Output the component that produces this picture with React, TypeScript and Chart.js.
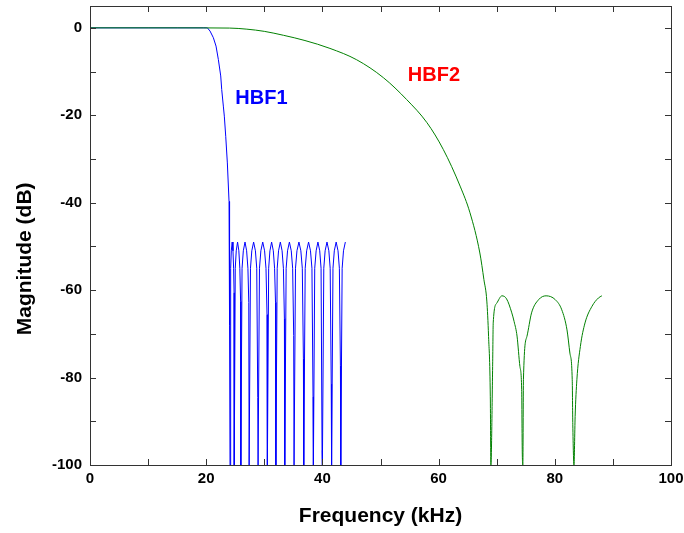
import React, { useEffect, useRef } from 'react';
import { Chart, registerables } from 'chart.js';

Chart.register(...registerables);

// ---- data ----
// HBF1 (blue): passband, steep transition, equiripple stopband with nulls
const hbf1Freq = [
  0, 10, 20, 20.2, 20.66, 21.23, 21.69, 22.09, 22.5, 22.67, 22.95, 23.12, 23.36, 23.64, 23.93, 23.98, 24.06, 24.1,
  24.21, 24.32, 24.47, 24.61, 24.72, 24.8, 24.83,
  25.0, 25.17, 25.4, 25.62, 25.79, 25.92, 25.96,
  26.17, 26.39, 26.68, 26.96, 27.18, 27.33, 27.39,
  27.62, 27.85, 28.16, 28.47, 28.7, 28.87, 28.93,
  29.17, 29.41, 29.73, 30.05, 30.29, 30.47, 30.53,
  30.75, 30.97, 31.26, 31.55, 31.77, 31.93, 31.99,
  32.22, 32.45, 32.76, 33.06, 33.29, 33.46, 33.52,
  33.76, 34.0, 34.32, 34.64, 34.88, 35.06, 35.12,
  35.37, 35.62, 35.96, 36.29, 36.54, 36.73, 36.79,
  37.04, 37.29, 37.62, 37.95, 38.2, 38.39, 38.45,
  38.68, 38.92, 39.23, 39.54, 39.77, 39.94, 40.0,
  40.24, 40.47, 40.79, 41.11, 41.34, 41.52, 41.58,
  41.82, 42.05, 42.37, 42.69, 42.92, 43.1, 43.16,
  43.4, 43.63, 43.95, 44.02,
];
const hbf1Mag = [
  0, 0, 0, 0, -0.73, -2.25, -4.17, -7.22, -11.0, -14.1, -17.9, -20.2, -24.8, -30.9, -39.7, -48.5, -68, -100,
  -55, -51, -49, -51, -55, -60.6, -100,
  -55, -51, -49, -51, -55, -62.6, -100,
  -55, -51, -49, -51, -55, -62.8, -100,
  -55, -51, -49, -51, -55, -84.6, -100,
  -55, -51, -49, -51, -55, -65.6, -100,
  -55, -51, -49, -51, -55, -62.8, -100,
  -55, -51, -49, -51, -55, -66.5, -100,
  -55, -51, -49, -51, -55, -70.4, -100,
  -55, -51, -49, -51, -55, -75.7, -100,
  -55, -51, -49, -51, -55, -84.4, -100,
  -55, -51, -49, -51, -55, -96.6, -100,
  -55, -51, -49, -51, -55, -81.5, -100,
  -55, -51, -49, -51, -55, -77.3, -100,
  -55, -51, -49, -49,
];

// HBF2 (green): wide roll-off, stopband with three nulls
const hbf2Freq = [
  0, 15, 24, 27, 30, 33.3, 37, 41.3, 45.9, 50.5, 54.5, 58.0, 60.8, 63.7, 65.4, 67.1, 67.8, 68.3, 68.6, 68.9, 69.0,
  69.3, 69.4, 70.0, 70.9, 71.7, 72.6, 73.0, 73.5, 74.0, 74.3, 74.4, 74.5,
  74.6, 75.2, 76.0, 77.2, 78.5, 80.1, 81.2, 82.1, 82.6, 83.0, 83.1, 83.3,
  83.5, 83.8, 84.4, 85.2, 86.4, 87.5, 88.1,
];
const hbf2Mag = [
  0, 0, -0.05, -0.3, -0.8, -1.7, -2.9, -4.7, -7.3, -11.4, -16.4, -21.7, -27.8, -36.2, -42.3, -51.5, -57.6, -62.5, -70.6, -84.4, -100,
  -77.5, -67.5, -63, -61.3, -62, -65.2, -67.2, -70.5, -77.5, -82.8, -97, -100,
  -80.5, -70.6, -65.2, -62.2, -61.3, -62.2, -64.5, -69.1, -74.4, -80.5, -90.8, -100,
  -88.9, -80.5, -72.9, -67.5, -63.7, -61.8, -61.3,
];

// tick labels
const xTickLabels = [0, 20, 40, 60, 80, 100];
const yTickLabels = [0, -20, -40, -60, -80, -100];

// curve names
const seriesNames = ['HBF1', 'HBF2'];

const FONT = "'Liberation Sans', Arial, Helvetica, sans-serif";

const annotations = [
  { text: seriesNames[0], x: 29.5, y: -16.1, color: '#0000ff' },
  { text: seriesNames[1], x: 59.2, y: -11.0, color: '#ff0000' },
];

const framePlugin = {
  id: 'frame',
  afterDatasetsDraw(chart: any) {
    const { ctx, scales } = chart;
    ctx.save();
    ctx.font = `bold 20px ${FONT}`;
    ctx.textAlign = 'center';
    ctx.textBaseline = 'middle';
    for (const a of annotations) {
      ctx.fillStyle = a.color;
      ctx.fillText(a.text, scales.x.getPixelForValue(a.x), scales.y.getPixelForValue(a.y));
    }
    ctx.restore();
  },
  afterDraw(chart: any) {
    const { ctx, chartArea: a, scales } = chart;
    const x = scales.x;
    const y = scales.y;
    ctx.save();
    ctx.strokeStyle = '#333333';
    ctx.lineWidth = 1;
    ctx.beginPath();
    const tl = 6;
    for (const t of x.ticks) {
      if (t.value <= x.min || t.value >= x.max) continue;
      const px = Math.round(x.getPixelForValue(t.value)) + 0.5;
      ctx.moveTo(px, a.bottom);
      ctx.lineTo(px, a.bottom - tl);
      ctx.moveTo(px, a.top);
      ctx.lineTo(px, a.top + tl);
    }
    for (const t of y.ticks) {
      if (t.value <= y.min || t.value >= y.max) continue;
      const py = Math.round(y.getPixelForValue(t.value)) + 0.5;
      ctx.moveTo(a.left, py);
      ctx.lineTo(a.left + tl, py);
      ctx.moveTo(a.right, py);
      ctx.lineTo(a.right - tl, py);
    }
    ctx.stroke();
    ctx.strokeRect(Math.round(a.left) + 0.5, Math.round(a.top) + 0.5, Math.round(a.right - a.left), Math.round(a.bottom - a.top));
    ctx.restore();
  },
};

export default function App() {
  const ref = useRef<HTMLCanvasElement | null>(null);

  useEffect(() => {
    document.body.style.margin = '0';
    const canvas = ref.current;
    if (!canvas) return;
    const chart = new Chart(canvas, {
      type: 'line',
      data: {
        datasets: [
          {
            label: seriesNames[1],
            data: hbf2Freq.map((f, i) => ({ x: f, y: hbf2Mag[i] })),
            borderColor: '#008000',
            borderWidth: 1,
            pointRadius: 0,
            cubicInterpolationMode: 'monotone',
            fill: false,
          },
          {
            label: seriesNames[0],
            data: hbf1Freq.map((f, i) => ({ x: f, y: hbf1Mag[i] })),
            borderColor: '#0000ff',
            borderWidth: 1,
            pointRadius: 0,
            tension: 0,
            fill: false,
          },
        ],
      },
      options: {
        animation: false,
        responsive: false,
        maintainAspectRatio: false,
        layout: { padding: { top: 6, right: 13, left: 0, bottom: 0 } },
        plugins: { legend: { display: false }, tooltip: { enabled: false } },
        scales: {
          x: {
            type: 'linear',
            min: 0,
            max: 100,
            afterFit: (s: any) => {
              s.height = 68;
              s.paddingLeft = 0;
              s.paddingRight = 0;
            },
            afterBuildTicks: (s: any) => { s.ticks = s.ticks.filter((t: any) => t.value % 10 === 0); },
            ticks: {
              stepSize: 10,
              autoSkip: false,
              maxRotation: 0,
              padding: 5,
              color: '#000',
              font: { family: FONT, size: 15, weight: 'bold' },
              callback: (v: any) => (xTickLabels.includes(Number(v)) ? String(v) : ''),
            },
            grid: { display: false, drawTicks: false, tickLength: 0 },
            border: { display: false },
            title: {
              display: true,
              text: 'Frequency (kHz)',
              color: '#000',
              font: { family: FONT, size: 21, weight: 'bold' },
              padding: { top: 0, bottom: 4 },
            },
          },
          y: {
            type: 'linear',
            min: -100,
            max: 5,
            afterFit: (s: any) => {
              s.width = 90;
              s.paddingTop = 0;
              s.paddingBottom = 0;
            },
            afterBuildTicks: (s: any) => { s.ticks = s.ticks.filter((t: any) => t.value % 10 === 0); },
            ticks: {
              stepSize: 10,
              autoSkip: false,
              padding: 8,
              color: '#000',
              font: { family: FONT, size: 15, weight: 'bold' },
              callback: (v: any) => (yTickLabels.includes(Number(v)) ? String(v) : ''),
            },
            grid: { display: false, drawTicks: false, tickLength: 0 },
            border: { display: false },
            title: {
              display: true,
              text: 'Magnitude (dB)        ',
              color: '#000',
              font: { family: FONT, size: 21, weight: 'bold' },
              padding: { top: 13, bottom: 0 },
            },
          },
        },
      },
      plugins: [framePlugin],
    } as any);
    return () => chart.destroy();
  }, []);

  return (
    <div style={{ width: 684, height: 533 }}>
      <canvas ref={ref} width={684} height={533} style={{ display: 'block', width: 684, height: 533 }} />
    </div>
  );
}
